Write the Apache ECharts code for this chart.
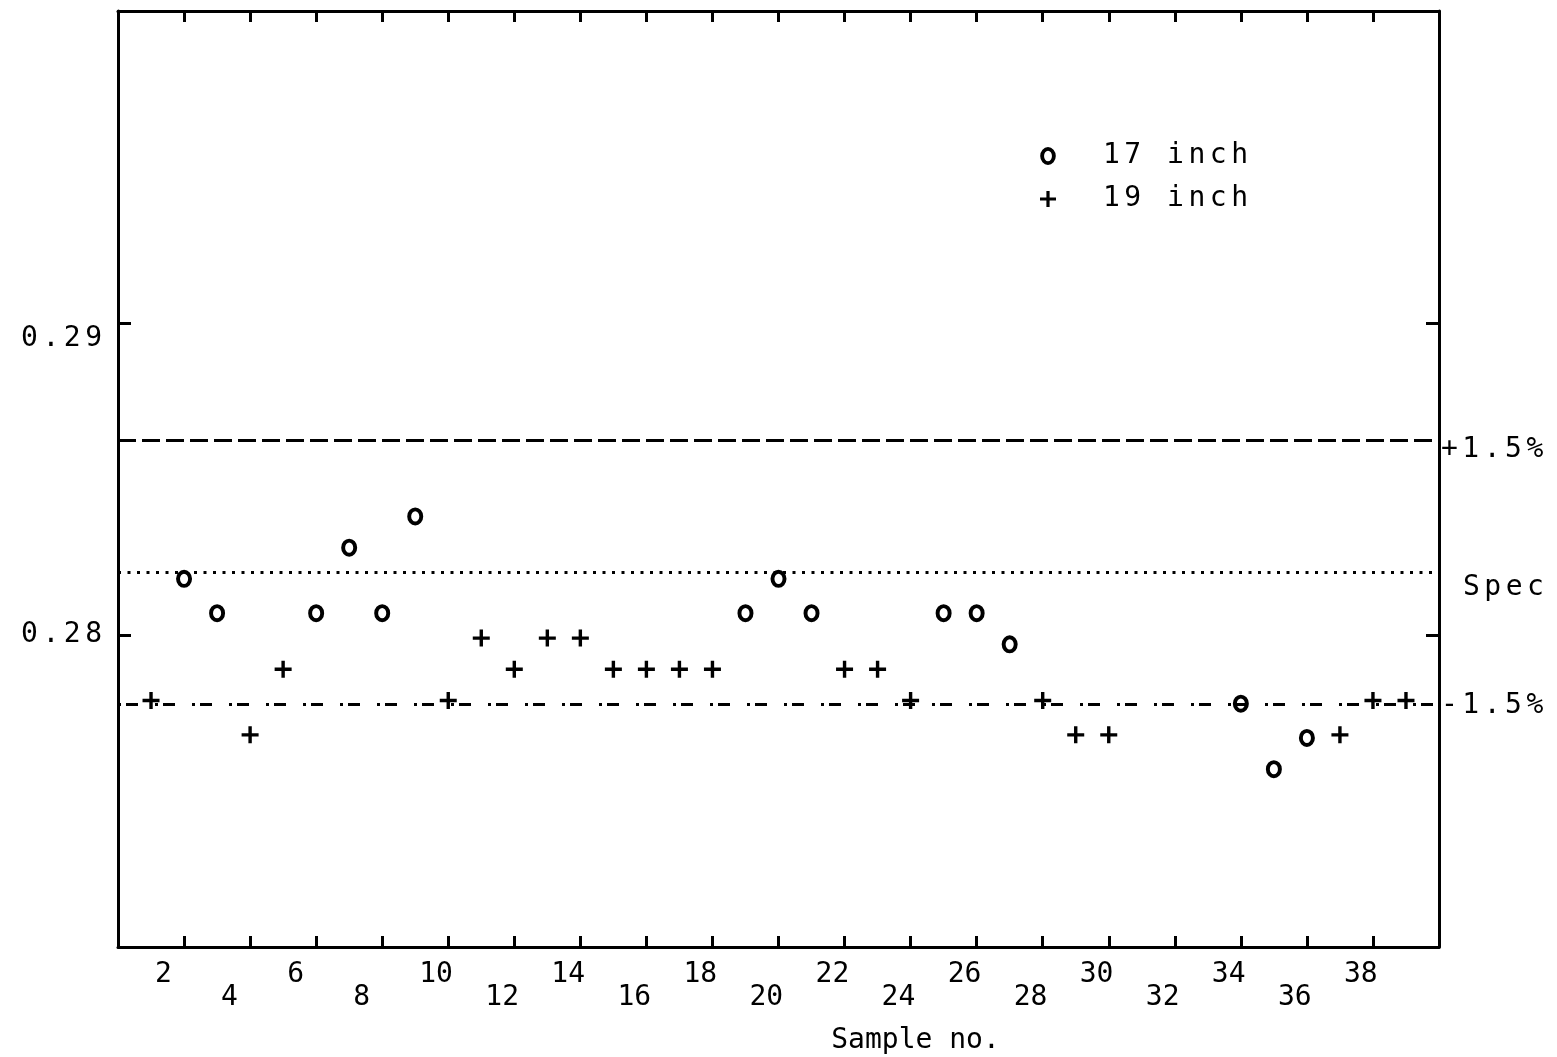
<!DOCTYPE html>
<html>
<head>
<meta charset="utf-8">
<script src="https://cdn.jsdelivr.net/npm/echarts@6/dist/echarts.min.js"></script>
<style>
  html, body { margin: 0; padding: 0; background: #fff; }
  #chart { width: 1557px; height: 1057px; }
</style>
</head>
<body>
<div id="chart"></div>
<script>
// 17 inch samples (o)
const samples17 = [2, 3, 6, 7, 8, 9, 19, 20, 21, 25, 26, 27, 34, 35, 36]
const values17 = [0.2818, 0.2807, 0.2807, 0.2828, 0.2807, 0.2838, 0.2807, 0.2818, 0.2807,
  0.2807, 0.2807, 0.2797, 0.2778, 0.2757, 0.2767]

// 19 inch samples (+)
const samples19 = [1, 4, 5, 10, 11, 12, 13, 14, 15, 16, 17, 18, 22, 23, 24, 28, 29, 30, 37, 38, 39]
const values19 = [0.2779, 0.2768, 0.2789, 0.2779, 0.2799, 0.2789, 0.2799, 0.2799, 0.2789, 0.2789,
  0.2789, 0.2789, 0.2789, 0.2789, 0.2779, 0.2779, 0.2768, 0.2768, 0.2768, 0.2779, 0.2779]

// spec line and the +/-1.5% limits
const limitValues = [0.28623, 0.282, 0.27777]
const limitLabels = ['+1.5%', 'Spec', '-1.5%']

const FONT = 'DejaVu Sans Mono'
const INK = '#000'
const PLUS = 'path://M4,0h2v4h4v2h-4v4h-2v-4h-4v-2h4z'
// "o" ring: outer ellipse one way, inner ellipse the other way so it stays hollow
const RING = 'path://M0,7.5a6.5,7.5 0 1 0 13,0a6.5,7.5 0 1 0 -13,0z' +
  'M3.2,7.5a3.3,4.3 0 1 1 6.6,0a3.3,4.3 0 1 1 -6.6,0z'

const pairs = (xs, ys) => xs.map((x, i) => [x, ys[i]])

// plotter lettering is wider spaced than the font, pad between glyphs
const spaced = s => s.split('').join('{g| }')

const labelText = { color: INK, fontFamily: FONT, fontSize: 28 }
const gapStyle = { g: { fontFamily: FONT, fontSize: 7.5, color: INK } }

const frameLine = { show: true, onZero: false, lineStyle: { color: INK, width: 3 } }
const innerTick = { show: true, inside: true, length: 11, lineStyle: { color: INK, width: 3 } }

// x labels alternate between two rows
function xAxisRow (keep, margin, extra) {
  return Object.assign({
    type: 'value',
    position: 'bottom',
    min: 0,
    max: 40,
    interval: 2,
    splitLine: { show: false },
    axisLine: { show: false },
    axisTick: { show: false },
    axisLabel: {
      margin,
      align: 'center',
      formatter: v => (v > 0 && v < 40 && v % 4 === keep) ? '{t|' + v + '}' : '',
      rich: { t: Object.assign({ width: 58, align: 'left' }, labelText) },
    },
  }, extra)
}

const limitStyles = [
  { type: [18, 6], padding: [18, 0, 0, 0], distance: 2 },
  { type: [3, 6.5], padding: [30, 0, 0, 0], distance: 24 },
  { type: [3, 5, 12, 17], padding: [2, 0, 0, 0], distance: 2 },
]

const markLineData = limitValues.map((v, i) => ({
  yAxis: v,
  lineStyle: { color: INK, width: 3, type: limitStyles[i].type },
  label: Object.assign({
    show: true,
    position: 'end',
    distance: limitStyles[i].distance,
    padding: limitStyles[i].padding,
    formatter: spaced(limitLabels[i]),
    rich: gapStyle,
  }, labelText),
}))

const yAxisBase = {
  type: 'value',
  min: 0.27,
  max: 0.30,
  interval: 0.01,
  splitLine: { show: false },
  axisLine: frameLine,
  axisTick: Object.assign({}, innerTick, { length: 13 }),
}

const chart = echarts.init(document.getElementById('chart'), null, { renderer: 'canvas' })

chart.setOption({
  backgroundColor: '#fff',
  animation: false,
  grid: { left: 118, right: 118, top: 11, bottom: 110, containLabel: false, outerBoundsMode: 'none' },
  legend: {
    orient: 'vertical',
    left: 1035,
    top: 137,
    itemWidth: 16,
    itemHeight: 18,
    itemGap: 15,
    data: ['17 inch', '19 inch'],
    formatter: name => spaced(name),
    textStyle: Object.assign({ padding: [0, 0, 0, 42], rich: gapStyle }, labelText),
  },
  xAxis: [
    xAxisRow(2, 14, {
      axisLine: frameLine,
      axisTick: innerTick,
      name: 'Sample no.',
      nameLocation: 'middle',
      nameGap: 80,
      nameTextStyle: Object.assign({ padding: [0, 0, 0, 274] }, labelText),
    }),
    xAxisRow(0, 37),
    {
      type: 'value',
      position: 'top',
      min: 0,
      max: 40,
      interval: 2,
      splitLine: { show: false },
      axisLine: frameLine,
      axisTick: innerTick,
      axisLabel: { show: false },
    },
  ],
  yAxis: [
    Object.assign({}, yAxisBase, {
      position: 'left',
      axisLabel: Object.assign({
        margin: 16,
        lineHeight: 32,
        showMinLabel: false,
        showMaxLabel: false,
        formatter: v => {
          const s = v.toFixed(2)
          return (s === '0.29' ? '\n' : '') + spaced(s)
        },
        rich: { g: Object.assign({ lineHeight: 32 }, gapStyle.g) },
      }, labelText),
    }),
    Object.assign({}, yAxisBase, {
      position: 'right',
      axisLabel: { show: false },
    }),
  ],
  series: [
    {
      name: '17 inch',
      type: 'scatter',
      symbol: RING,
      symbolSize: [16, 18],
      symbolKeepAspect: false,
      itemStyle: { color: INK, opacity: 1 },
      data: pairs(samples17, values17),
      markLine: {
        silent: true,
        symbol: 'none',
        precision: 5,
        animation: false,
        data: markLineData,
      },
      z: 3,
    },
    {
      name: '19 inch',
      type: 'scatter',
      symbol: PLUS,
      symbolSize: 17,
      itemStyle: { color: INK, opacity: 1 },
      data: pairs(samples19, values19),
      z: 3,
    },
  ],
})
</script>
</body>
</html>
